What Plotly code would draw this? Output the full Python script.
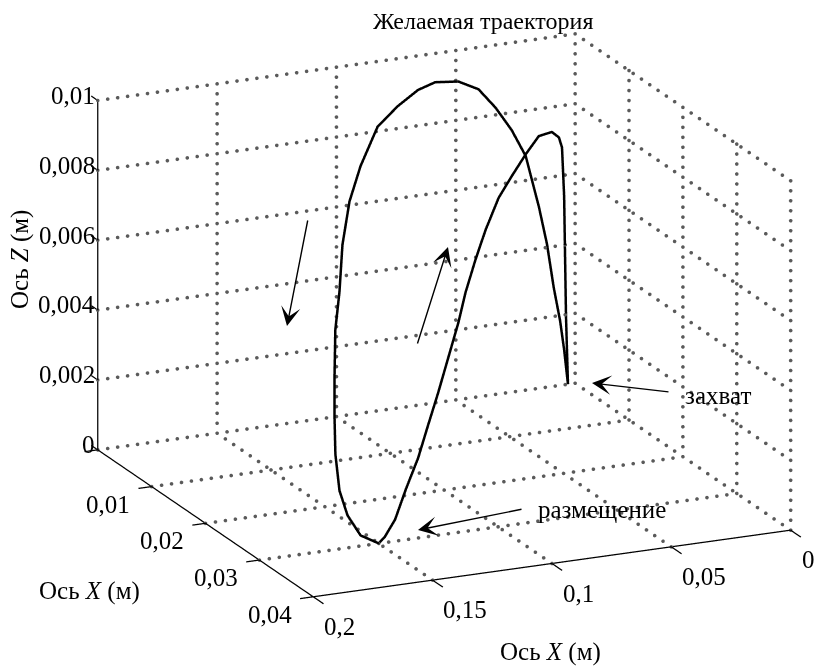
import numpy as np
import plotly.graph_objects as go

# Desired gripper trajectory, metres.
# long_m  : position along the long horizontal axis (0 ... 0.2)
# short_m : position along the short horizontal axis (0 ... 0.04)
# height_m: height (0 ... 0.01)
short_m = [0, 0, 0, 0, 0, 0,
           0.0025, 0.0046, 0.0067, 0.0089, 0.0110, 0.0131, 0.0147, 0.0163,
           0.0174, 0.0190, 0.0206, 0.0222, 0.0238, 0.0257, 0.0275, 0.0291,
           0.0300,
           0.0300, 0.0298, 0.0295, 0.0290, 0.0283, 0.0275, 0.0262, 0.0248,
           0.0230, 0.0205, 0.0160, 0.0100, 0.0060, 0.0030, 0.0010,
           0, 0, 0, 0, 0, 0, 0, 0, 0, 0, 0]
long_m = [0.0030, 0.0038, 0.0042, 0.0046, 0.0055, 0.0068,
          0.0154, 0.0256, 0.0358, 0.0467, 0.0569, 0.0671, 0.0749, 0.0827,
          0.0882, 0.0960, 0.1038, 0.1117, 0.1195, 0.1289, 0.1375, 0.1454,
          0.1500,
          0.1576, 0.1626, 0.1653, 0.1659, 0.1647, 0.1629, 0.1596, 0.1547,
          0.1494, 0.1408, 0.1260, 0.1053, 0.0878, 0.0726, 0.0609,
          0.0489, 0.0405, 0.0333, 0.0266, 0.0207, 0.0152, 0.0118, 0.0089,
          0.0063, 0.0046, 0.0030]
height_m = [0, 0.0019, 0.0036, 0.0054, 0.0068, 0.0071,
            0.0076, 0.0078, 0.0076, 0.0073, 0.0070, 0.0064, 0.0058, 0.0051,
            0.0044, 0.00365, 0.0029, 0.0022, 0.0015, 0.0009, 0.0003, 0.00005,
            0,
            0.0003, 0.0009, 0.0016, 0.0026, 0.00365, 0.0045, 0.0058, 0.0067,
            0.0078, 0.0087, 0.0091, 0.0094, 0.0094, 0.0094, 0.0093,
            0.0091, 0.0088, 0.0082, 0.0075, 0.0067, 0.0052, 0.0041, 0.0028,
            0.00185, 0.0010, 0]

# Axis ticks and their labels
long_ticks = [0, 0.05, 0.1, 0.15, 0.2]
long_labels = ["0", "0,05", "0,1", "0,15", "0,2"]
short_ticks = [0, 0.01, 0.02, 0.03, 0.04]
short_labels = ["0", "0,01", "0,02", "0,03", "0,04"]
z_ticks = [0, 0.002, 0.004, 0.006, 0.008, 0.01]
z_labels = ["0", "0,002", "0,004", "0,006", "0,008", "0,01"]

title_text = "Желаемая траектория"
axis_title = "Ось <i>X</i> (м)"
z_title = "Ось <i>Z</i> (м)"
grip_text = "захват"
place_text = "размещение"

FONT = "Liberation Serif"
W, H = 815, 666

L0, L1 = long_ticks[0], long_ticks[-1]
S0, S1 = short_ticks[0], short_ticks[-1]
Z0, Z1 = z_ticks[0], z_ticks[-1]


def segments(pairs):
    xs, ys, zs = [], [], []
    for (a, b) in pairs:
        xs += [a[0], b[0], None]
        ys += [a[1], b[1], None]
        zs += [a[2], b[2], None]
    return xs, ys, zs


# grid lines on the floor and the two back walls; points are (long, short, z)
# the last number is how many dots make up the dotted line
grid = []
for s in short_ticks[:-1]:
    grid.append(((L0, s, Z0), (L1, s, Z0), 48))
for l in long_ticks[:-1]:
    grid.append(((l, S0, Z0), (l, S1, Z0), 26))
for z in z_ticks[1:]:
    grid.append(((L0, S0, z), (L1, S0, z), 48))
for l in long_ticks[:-1]:
    grid.append(((l, S0, Z0), (l, S0, Z1), 35))
for z in z_ticks[1:]:
    grid.append(((L0, S0, z), (L0, S1, z), 26))
for s in short_ticks[1:]:
    grid.append(((L0, s, Z0), (L0, s, Z1), 35))

# dotted grid drawn as rows of small dots
dot_x, dot_y, dot_z = [], [], []
for a, b, n in grid:
    t = np.linspace(0.0, 1.0, n + 1)
    dot_x += list(a[0] + (b[0] - a[0]) * t)
    dot_y += list(a[1] + (b[1] - a[1]) * t)
    dot_z += list(a[2] + (b[2] - a[2]) * t)

# solid front axes with their tick marks
axes = [((L1, S0, Z0), (L1, S1, Z0)),
        ((L1, S1, Z0), (L0, S1, Z0)),
        ((L1, S0, Z0), (L1, S0, Z1))]
tick_len_long, tick_len_short, tick_len_z = 0.0055, 0.0019, 0.0012
for s in short_ticks:
    axes.append(((L1, s, Z0), (L1 + tick_len_long, s, Z0)))
for l in long_ticks:
    axes.append(((l, S1, Z0), (l, S1 + tick_len_short, Z0)))
for z in z_ticks:
    axes.append(((L1, S0, z), (L1, S0 - tick_len_z, z)))

fig = go.Figure()
fig.add_trace(go.Scatter3d(x=dot_x, y=dot_y, z=dot_z, mode="markers",
                           marker=dict(color="#5a5a5a", size=2.1,
                                       line=dict(width=0)),
                           hoverinfo="skip"))
ax_, ay_, az_ = segments(axes)
fig.add_trace(go.Scatter3d(x=ax_, y=ay_, z=az_, mode="lines",
                           line=dict(color="black", width=2.5),
                           hoverinfo="skip"))
fig.add_trace(go.Scatter3d(x=long_m, y=short_m, z=height_m, mode="lines",
                           line=dict(color="black", width=5),
                           hoverinfo="skip"))

tick_font = dict(family=FONT, size=25, color="black")
scene_ann = []
for l, t in zip(long_ticks, long_labels):
    scene_ann.append(dict(x=l, y=S1, z=Z0, text=t, showarrow=False,
                          xanchor="left", yanchor="middle",
                          xshift=9, yshift=-30, font=tick_font))
for s, t in zip(short_ticks[1:], short_labels[1:]):
    scene_ann.append(dict(x=L1, y=s, z=Z0, text=t, showarrow=False,
                          xanchor="right", yanchor="middle",
                          xshift=-19, yshift=-18, font=tick_font))
for z, t in zip(z_ticks, z_labels):
    scene_ann.append(dict(x=L1, y=S0, z=z, text=t, showarrow=False,
                          xanchor="right", yanchor="middle",
                          xshift=0, yshift=5, font=tick_font))

r_long = [-0.0005, 0.2060]
r_short = [-0.0015, 0.0422]
r_z = [-0.0001, 0.0101]


def px(u):
    return u / W


def py(v):
    return 1 - v / H


text_font = dict(family=FONT, size=25, color="black")
paper_ann = [
    dict(x=px(483), y=py(21), text=title_text,
         font=dict(family=FONT, size=24, color="black")),
    dict(x=px(89), y=py(591), text=axis_title, font=text_font),
    dict(x=px(550), y=py(652), text=axis_title, font=text_font),
    dict(x=px(20), y=py(260), text=z_title, textangle=-90, font=text_font),
    dict(x=px(718), y=py(395), text=grip_text, font=text_font),
    dict(x=px(602), y=py(510), text=place_text, font=text_font),
]
for a in paper_ann:
    a.update(showarrow=False)
arrows = [((592, 383), (78, 9)), ((418, 530), (105, -21)),
          ((287, 326), (21, -107)), ((448, 247), (-31, 98))]
for (tip, off) in arrows:
    paper_ann.append(dict(x=px(tip[0]), y=py(tip[1]), text="", showarrow=True,
                          ax=off[0], ay=off[1], arrowhead=3, arrowsize=2.3,
                          arrowwidth=1.4, arrowcolor="black"))
for a in paper_ann:
    a.update(xref="paper", yref="paper", xanchor="center", yanchor="middle")

eye_dir = (0.3921, 0.8666, 0.3085)
eye_len = 2.5
fig.update_layout(
    width=W, height=H, margin=dict(l=0, r=0, t=0, b=0),
    paper_bgcolor="white", showlegend=False,
    scene=dict(
        domain=dict(x=[0.078, 1.0], y=[0.0472, 1.0]),
        xaxis=dict(visible=False, range=r_long),
        yaxis=dict(visible=False, range=r_short),
        zaxis=dict(visible=False, range=r_z),
        aspectmode="manual",
        aspectratio=dict(x=1.704, y=1.799, z=1.180),
        camera=dict(eye=dict(x=eye_dir[0] * eye_len, y=eye_dir[1] * eye_len,
                             z=eye_dir[2] * eye_len),
                    center=dict(x=0, y=0, z=0), up=dict(x=0, y=0, z=1),
                    projection=dict(type="orthographic")),
        bgcolor="white",
        annotations=scene_ann,
    ),
    annotations=paper_ann,
)
fig.write_html("out.html", config={"displayModeBar": False})
